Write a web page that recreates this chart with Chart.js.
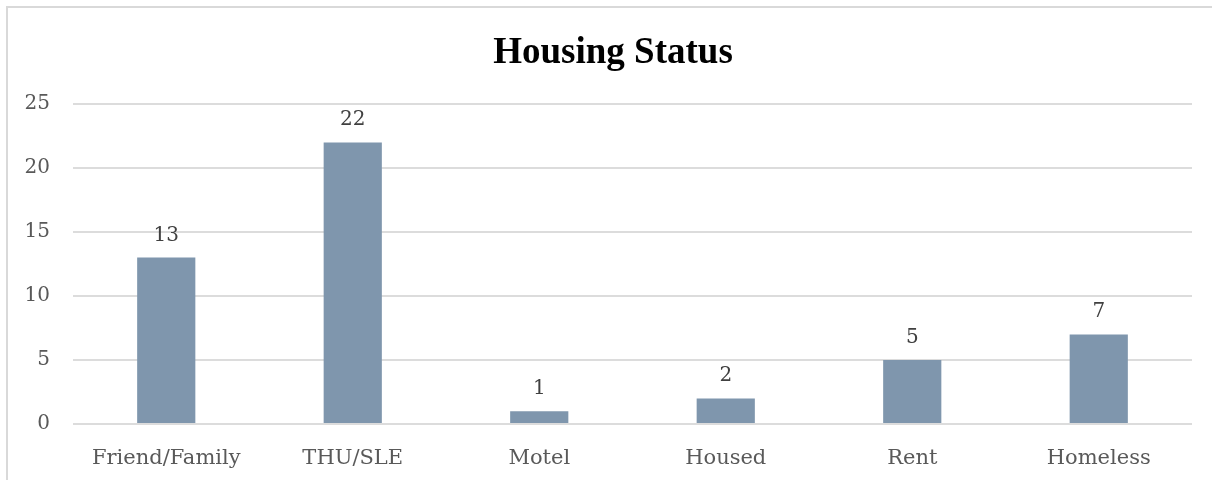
<!DOCTYPE html>
<html>
<head>
<meta charset="utf-8">
<script src="https://cdn.jsdelivr.net/npm/chart.js@4.4.1/dist/chart.umd.min.js"></script>
<style>
  html, body { margin:0; padding:0; background:#fff; }
  body { width:1212px; height:480px; overflow:hidden; position:relative; }
  .frame { position:absolute; left:6px; top:6px; width:1220px; height:490px;
           border-left:2px solid #d9d9d9; border-top:2px solid #d9d9d9; }
  #chart { position:absolute; left:0; top:0; }
</style>
</head>
<body>
<div class="frame"></div>
<canvas id="chart" width="1212" height="480"></canvas>
<script>
/* ---- data ---- */
const chartTitle = 'Housing Status';
const categories = ['Friend/Family', 'THU/SLE', 'Motel', 'Housed', 'Rent', 'Homeless'];
const counts     = [13, 22, 1, 2, 5, 7];
const yTicks     = [0, 5, 10, 15, 20, 25];

const SERIF = '"DejaVu Serif", serif';

/* title centred on the whole frame, not the plot */
const frameTitle = {
  id: 'frameTitle',
  afterDraw(chart) {
    const ctx = chart.ctx;
    ctx.save();
    ctx.font = 'bold 37px "Liberation Serif", serif';
    ctx.fillStyle = '#000';
    ctx.textAlign = 'center';
    ctx.textBaseline = 'alphabetic';
    ctx.fillText(chartTitle, 613, 63);
    ctx.restore();
  }
};

/* value labels above each bar (no datalabels plugin offline) */
const barValues = {
  id: 'barValues',
  afterDatasetsDraw(chart) {
    const ctx = chart.ctx;
    const meta = chart.getDatasetMeta(0);
    ctx.save();
    ctx.font = '20px ' + SERIF;
    ctx.fillStyle = '#404040';
    ctx.textAlign = 'center';
    ctx.textBaseline = 'alphabetic';
    meta.data.forEach((bar, i) => {
      ctx.fillText(String(counts[i]), bar.x, bar.y - 17);
    });
    ctx.restore();
  }
};

new Chart(document.getElementById('chart'), {
  type: 'bar',
  data: {
    labels: categories,
    datasets: [{
      data: counts,
      backgroundColor: '#7f96ad',
      categoryPercentage: 1,
      barPercentage: 0.312,
    }],
  },
  options: {
    responsive: false,
    animation: false,
    layout: { padding: { left: 0, right: 20, top: 104, bottom: 0 } },
    plugins: {
      legend: { display: false },
      tooltip: { enabled: false },
      title: { display: false },
    },
    scales: {
      x: {
        grid: { display: false, drawTicks: false },
        border: { display: false },
        ticks: { color: '#595959', font: { family: SERIF, size: 21 }, padding: 22 },
        afterFit(s) { s.height = 56; },
      },
      y: {
        min: 0, max: 25,
        grid: { color: '#dcdcdc', lineWidth: 2, drawTicks: false },
        border: { display: false },
        afterBuildTicks(s) { s.ticks = yTicks.map(v => ({ value: v })); },
        ticks: { color: '#595959', font: { family: SERIF, size: 20 }, padding: 23 },
        afterFit(s) { s.width = 73; },
      },
    },
  },
  plugins: [barValues, frameTitle],
});
</script>
</body>
</html>
